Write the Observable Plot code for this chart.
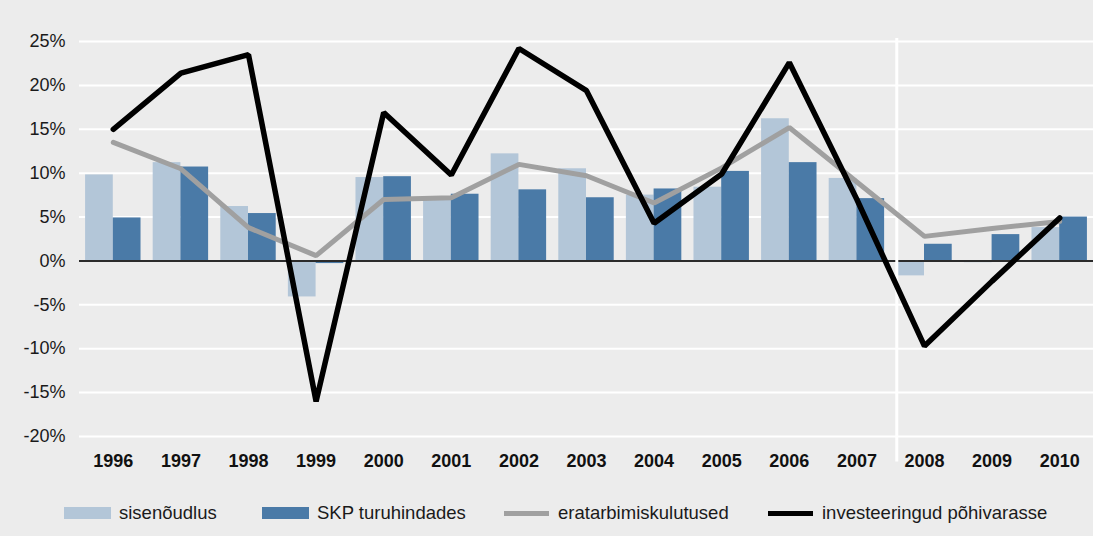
<!DOCTYPE html>
<html>
<head>
<meta charset="utf-8">
<script src="https://cdn.jsdelivr.net/npm/d3@7"></script>
<script src="https://cdn.jsdelivr.net/npm/@observablehq/plot@0.6"></script>
<style>
  html, body { margin: 0; padding: 0; background: #ececec; width: 1093px; height: 536px; overflow: hidden; font-family: "Liberation Sans", Arial, sans-serif; }
  #chart svg { display: block; background: #ececec; }
  #legend { position: relative; height: 56px; }
  .item { position: absolute; top: 27px; height: 12px; display: flex; align-items: center; font-size: 18.5px; color: #1a1a1a; white-space: nowrap; }
  .sw { width: 47px; height: 12px; margin-right: 8px; flex: none; }
  .ln { width: 45px; height: 5px; margin-right: 9px; flex: none; }
</style>
</head>
<body>
<div id="chart"></div>
<div id="legend"></div>
<script>
const years = ["1996","1997","1998","1999","2000","2001","2002","2003","2004","2005","2006","2007","2008","2009","2010"];
const sisenoudlus = [9.8, 11.2, 6.2, -4.1, 9.5, 7.3, 12.2, 10.5, 7.5, 8.4, 16.2, 9.4, -1.7, -0.2, 3.8];
const skp = [4.9, 10.7, 5.4, -0.3, 9.6, 7.6, 8.1, 7.2, 8.2, 10.2, 11.2, 7.1, 1.9, 3.0, 5.0];
const eratarbimine = [13.5, 10.5, 3.8, 0.6, 7.0, 7.2, 11.0, 9.7, 6.6, 10.6, 15.2, 9.0, 2.8, 3.7, 4.5];
const investeeringud = [15.0, 21.4, 23.5, -16.0, 16.9, 9.8, 24.2, 19.4, 4.3, 9.9, 22.6, 7.0, -9.7, -2.3, 4.9];
const yTicks = [-20, -15, -10, -5, 0, 5, 10, 15, 20, 25];
const seriesNames = ["sisenõudlus", "SKP turuhindades", "eratarbimiskulutused", "investeeringud põhivarasse"];
const colors = ["#b3c6d8", "#4a7aa7", "#a0a0a0", "#000000"];
const splitYear = "2008";

const W = 1093, H = 480, ML = 79, MR = 0, MT = 41, MB = 44;
const padIn = 0.18, padOut = 0.09;
const step = (W - ML - MR) / (years.length - padIn + 2 * padOut);
const bw = step * (1 - padIn);

const rows = years.map((y, i) => ({year: y, a: sisenoudlus[i], b: skp[i], c: eratarbimine[i], d: investeeringud[i]}));

const chart = Plot.plot({
  width: W, height: H,
  marginLeft: ML, marginRight: MR, marginTop: MT, marginBottom: MB,
  style: {background: "#ececec", fontFamily: "'Liberation Sans', Arial, sans-serif"},
  x: {domain: years, paddingInner: padIn, paddingOuter: padOut, round: false, label: null},
  y: {domain: [-20, 25], label: null},
  marks: [
    Plot.ruleY(yTicks.filter(t => t !== 0), {stroke: "#ffffff", strokeWidth: 2}),
    Plot.barY(rows, {x: "year", y: "a", fill: colors[0], insetRight: bw / 2}),
    Plot.barY(rows, {x: "year", y: "b", fill: colors[1], insetLeft: bw / 2}),
    Plot.ruleY([0], {stroke: "#2b2b2b", strokeWidth: 2}),
    Plot.ruleX([splitYear], {x: d => d, y1: 25.35, y2: -22.9, stroke: "#ffffff", strokeWidth: 3, dx: -bw / 2}),
    Plot.line(rows, {x: "year", y: "c", stroke: colors[2], strokeWidth: 5, strokeLinejoin: "miter"}),
    Plot.line(rows, {x: "year", y: "d", stroke: colors[3], strokeWidth: 5.5, strokeLinejoin: "miter"}),
    Plot.axisY(yTicks, {tickSize: 0, tickPadding: 14, tickFormat: d => d + "%", fontSize: 18, fill: "#1a1a1a", label: null}),
    Plot.axisX({tickSize: 0, tickPadding: 18, fontSize: 18, fontWeight: "bold", fill: "#111", label: null})
  ]
});
document.getElementById("chart").appendChild(chart);

const legend = document.getElementById("legend");
const lefts = [64, 262, 504, 768];
seriesNames.forEach((name, i) => {
  const it = document.createElement("div");
  it.className = "item";
  it.style.left = lefts[i] + "px";
  const s = document.createElement("div");
  s.className = i < 2 ? "sw" : "ln";
  s.style.background = colors[i];
  const t = document.createElement("span");
  t.textContent = name;
  it.appendChild(s); it.appendChild(t);
  legend.appendChild(it);
});
</script>
</body>
</html>
